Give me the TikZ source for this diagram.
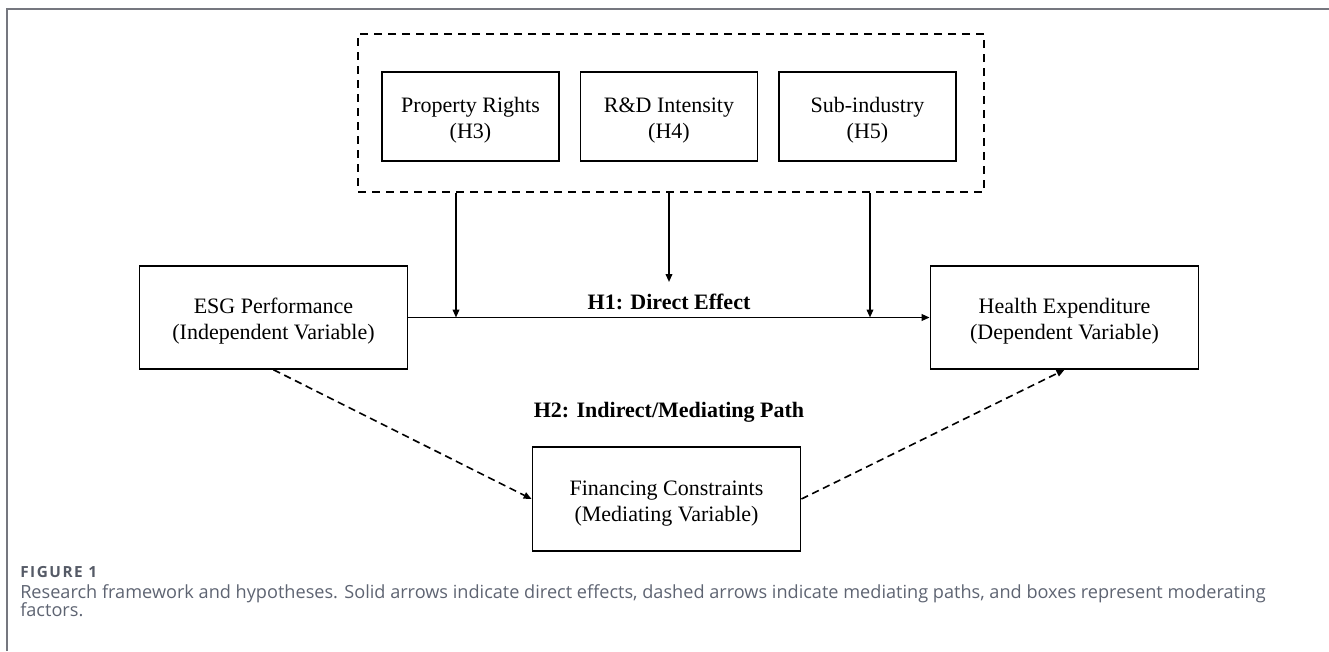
\documentclass[tikz,border=0pt]{standalone}
\usepackage{fontspec}
\setmainfont{Liberation Serif}
\newfontfamily\capfont{Open Sans}
\newfontfamily\figfont[LetterSpace=10]{Open Sans}
\usetikzlibrary{arrows.meta}
\definecolor{framegray}{HTML}{75777F}
\definecolor{capgray}{HTML}{5E6472}
\definecolor{figgray}{HTML}{555A66}
\newcommand{\boxtext}[1]{\raisebox{-7.5pt}[0pt][0pt]{\begin{tabular}{@{}c@{}}#1\end{tabular}}}
\begin{document}
\begin{tikzpicture}[x=0.75pt,y=-0.75pt,
  box/.style={draw, line width=1.35pt, inner sep=0pt,
    font=\fontsize{16.5}{19.5}\selectfont},
  varbox/.style={box, minimum width=201pt, minimum height=77pt},
  modbox/.style={box, minimum width=132.75pt, minimum height=66.75pt},
  arr/.style={line width=1.2pt, -{Triangle[length=6pt,width=5pt]}},
  darr/.style={arr, dash pattern=on 5.5pt off 3.5pt},
  lbl/.style={font=\fontsize{16.5}{19.5}\selectfont\bfseries, inner sep=0pt}
]
\useasboundingbox (0,0) rectangle (1329,651);
% frame
\draw[framegray, line width=1.1pt] (7,651) -- (7,9) -- (1329,9);

% moderator group
\node[draw, line width=1.35pt, dash pattern=on 6pt off 4.5pt, minimum width=469.5pt, minimum height=118.5pt, inner sep=0pt] (grp) at (671,113) {};
\node[modbox] (pr) at (470.5,116.5) {\boxtext{Property Rights\\(H3)}};
\node[modbox] (rd) at (669,116.5) {\boxtext{R\&D Intensity\\(H4)}};
\node[modbox] (si) at (867.5,116.5) {\boxtext{Sub-industry\\(H5)}};

% main variables
\node[varbox] (esg) at (273.5,317.5) {\boxtext{ESG Performance\\(Independent Variable)}};
\node[varbox] (hea) at (1064.5,317.5) {\boxtext{Health Expenditure\\(Dependent Variable)}};
\node[varbox, minimum height=78pt] (fin) at (666.5,499) {\boxtext{Financing Constraints\\(Mediating Variable)}};

% direct effect
\draw[arr] (esg.east) -- (hea.west);
\node[lbl] (h1) at (669,302) {H1: Direct Effect};

% moderation arrows
\coordinate (j1) at (456,317.5);
\coordinate (j2) at (669,282);
\coordinate (j3) at (870,317.5);
\draw[arr] (grp.south -| j1) -- (j1);
\draw[arr] (grp.south -| j2) -- (j2);
\draw[arr] (grp.south -| j3) -- (j3);

% mediation
\draw[darr] (esg.south) -- (fin.west);
\draw[darr] (fin.east) -- (hea.south);
\node[lbl] (h2) at (669,412) {H2: Indirect/Mediating Path};

% caption
\node[anchor=base west, inner sep=0pt, text=figgray, font=\figfont\fontsize{11.5}{13}\selectfont\bfseries] (figl) at (20,577) {FIGURE 1};
\node[anchor=base west, inner sep=0pt, text=capgray, font=\capfont\fontsize{13.6}{15}\selectfont] (cap1) at (20,598) {Research framework and hypotheses. Solid arrows indicate direct effects, dashed arrows indicate mediating paths, and boxes represent moderating};
\node[anchor=base west, inner sep=0pt, text=capgray, font=\capfont\fontsize{13.6}{15}\selectfont] (cap2) at (20,616) {factors.};
\end{tikzpicture}
\end{document}
